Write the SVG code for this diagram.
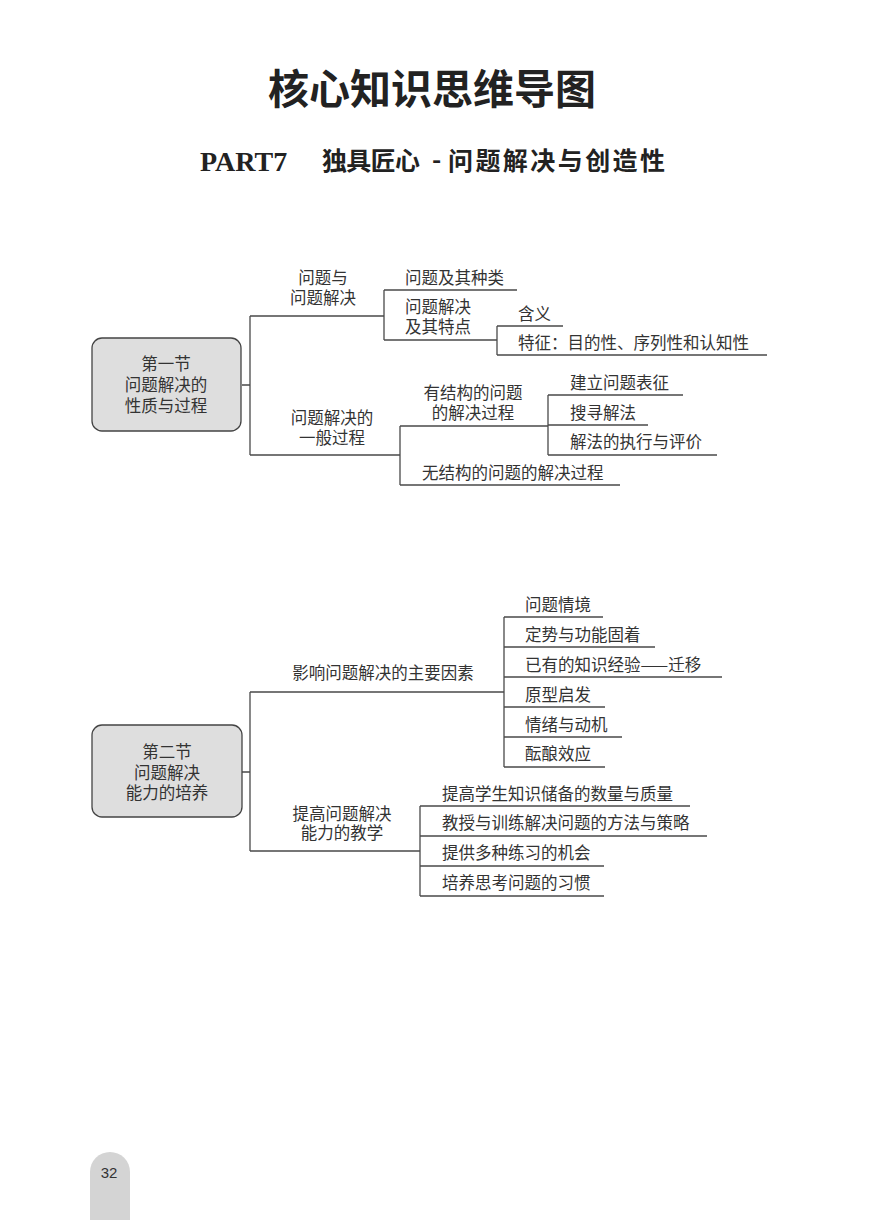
<svg xmlns="http://www.w3.org/2000/svg" width="869" height="1220" viewBox="0 0 869 1220">
<style>
.t{font-family:"Noto Sans CJK SC","Noto Sans",sans-serif;font-size:16.5px;fill:#333}
.c{text-anchor:middle}
.ln{stroke:#4a4a4a;stroke-width:1.3;fill:none}
.box{fill:#dedede;stroke:#444;stroke-width:1.3}
</style>
<rect width="869" height="1220" fill="#ffffff"/>
<g id="title">
<text x="432" y="104" text-anchor="middle" style="font-family:'Noto Sans CJK SC',sans-serif;font-size:41px;font-weight:700;fill:#222">核心知识思维导图</text>
</g>
<g id="subtitle" style="fill:#222">
<text x="200" y="171" style="font-family:'Liberation Serif',serif;font-size:28px;font-weight:700">PART7</text>
<text x="322" y="170" textLength="98" style="font-family:'Noto Sans CJK SC',sans-serif;font-size:25px;font-weight:700">独具匠心</text>
<text x="432" y="169" style="font-family:'Noto Sans CJK SC',sans-serif;font-size:25px;font-weight:700">-</text>
<text x="448" y="170" textLength="217" style="font-family:'Noto Sans CJK SC',sans-serif;font-size:25px;font-weight:700">问题解决与创造性</text>
</g>
<g id="connectors">
<!-- section 1 -->
<path class="ln" d="M242 385H250M250 316V455M250 316H384M384 290V340M384 290H517M384 340H497M497 326V355M497 326H563M497 355H767"/>
<path class="ln" d="M250 455H400M400 426V485M400 426H548M548 395V455M548 395H683M548 425H648M548 455H717M400 485H620"/>
<!-- section 2 -->
<path class="ln" d="M242 772H250M250 692V851M250 692H504M504 617V767M504 617H603M504 647H655M504 677H722M504 707H605M504 737H622M504 767H605"/>
<path class="ln" d="M250 851H420M420 806V896M420 806H690M420 836H707M420 866H604M420 896H604"/>
</g>
<g id="node-s1">
<rect class="box" x="92" y="338" width="149" height="93" rx="10"/>
<text class="t c" x="166" y="370">第一节</text>
<text class="t c" x="166" y="391">问题解决的</text>
<text class="t c" x="166" y="412">性质与过程</text>
</g>
<g id="node-wtywtjj"><text class="t c" x="323" y="284">问题与</text><text class="t c" x="323" y="304">问题解决</text></g>
<g id="node-wtjqzl"><text class="t" x="405" y="284">问题及其种类</text></g>
<g id="node-wtjjjqtd"><text class="t" x="405" y="313">问题解决</text><text class="t" x="405" y="333">及其特点</text></g>
<g id="node-hy"><text class="t" x="518" y="320">含义</text></g>
<g id="node-tz"><text class="t" x="518" y="349">特征：目的性、序列性和认知性</text></g>
<g id="node-ybgc"><text class="t c" x="332" y="424">问题解决的</text><text class="t c" x="332" y="444">一般过程</text></g>
<g id="node-yjg"><text class="t c" x="473" y="399">有结构的问题</text><text class="t c" x="473" y="419">的解决过程</text></g>
<g id="node-jlwtbz"><text class="t" x="570" y="389">建立问题表征</text></g>
<g id="node-sxjf"><text class="t" x="570" y="419">搜寻解法</text></g>
<g id="node-jfzx"><text class="t" x="570" y="448">解法的执行与评价</text></g>
<g id="node-wjg"><text class="t" x="422" y="479">无结构的问题的解决过程</text></g>
<g id="node-s2">
<rect class="box" x="92" y="725" width="150" height="92" rx="10"/>
<text class="t c" x="167" y="758">第二节</text>
<text class="t c" x="167" y="779">问题解决</text>
<text class="t c" x="167" y="799">能力的培养</text>
</g>
<g id="node-yxys"><text class="t c" x="383" y="679">影响问题解决的主要因素</text></g>
<g id="node-wtqj"><text class="t" x="525" y="611">问题情境</text></g>
<g id="node-ds"><text class="t" x="525" y="641">定势与功能固着</text></g>
<g id="node-yyzs"><text class="t" x="525" y="671">已有的知识经验——迁移</text></g>
<g id="node-yxqf"><text class="t" x="525" y="701">原型启发</text></g>
<g id="node-qx"><text class="t" x="525" y="731">情绪与动机</text></g>
<g id="node-yn"><text class="t" x="525" y="760">酝酿效应</text></g>
<g id="node-tgjx"><text class="t c" x="342" y="820">提高问题解决</text><text class="t c" x="342" y="839">能力的教学</text></g>
<g id="node-tgxs"><text class="t" x="442" y="800">提高学生知识储备的数量与质量</text></g>
<g id="node-jsyxl"><text class="t" x="442" y="829">教授与训练解决问题的方法与策略</text></g>
<g id="node-tgdz"><text class="t" x="442" y="859">提供多种练习的机会</text></g>
<g id="node-pysk"><text class="t" x="442" y="889">培养思考问题的习惯</text></g>
<g id="page">
<path d="M90 1220V1172A20 20 0 0 1 130 1172V1220Z" fill="#d4d4d4"/>
<text x="109" y="1178" text-anchor="middle" style="font-family:'Liberation Sans',sans-serif;font-size:15px;fill:#333">32</text>
</g>
</svg>
